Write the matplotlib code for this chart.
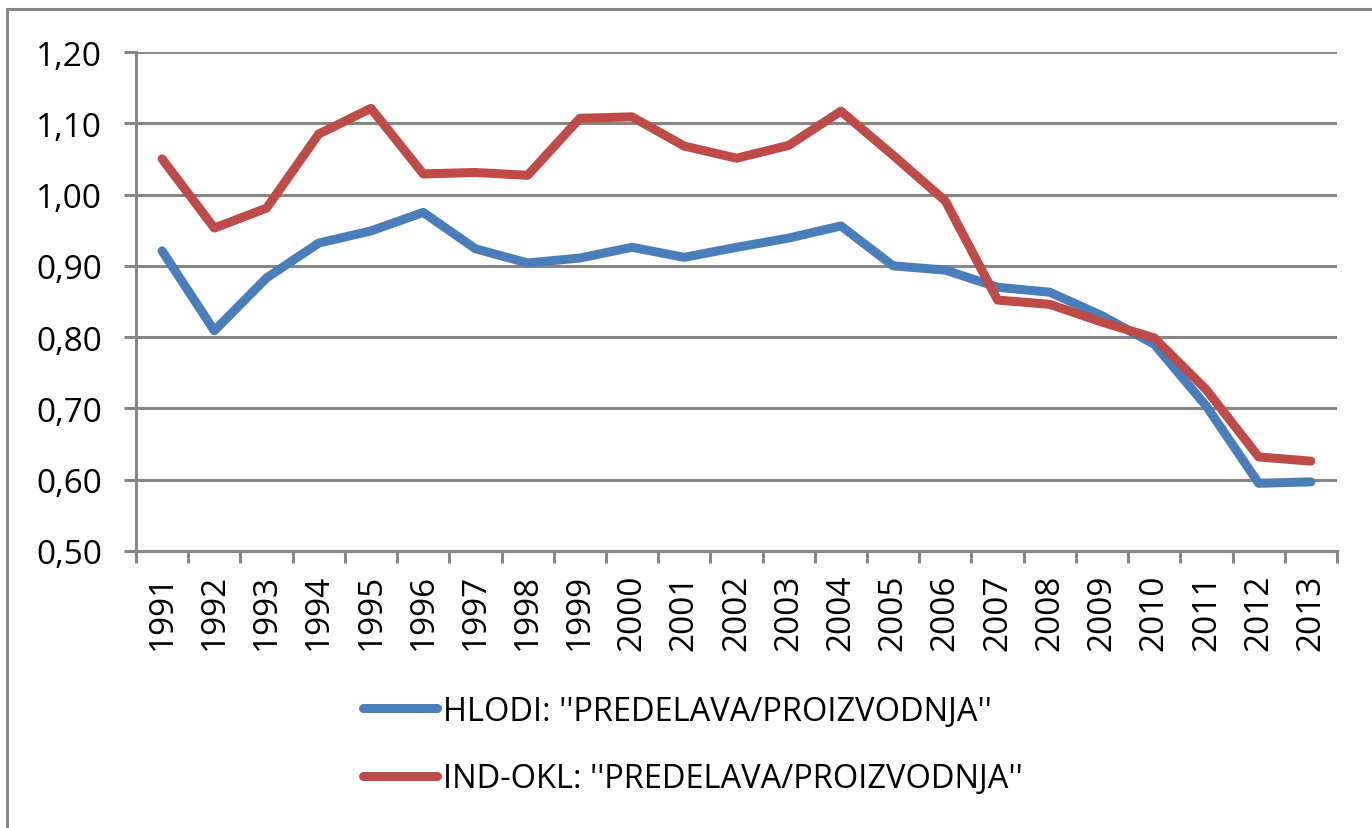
import matplotlib
matplotlib.use('Agg')
import matplotlib.pyplot as plt
from matplotlib.patches import Rectangle
from matplotlib.ticker import FixedLocator, FuncFormatter

plt.rcParams['font.family'] = ['Open Sans', 'DejaVu Sans']

# Podatki
leta = ['1991', '1992', '1993', '1994', '1995', '1996', '1997', '1998', '1999', '2000',
        '2001', '2002', '2003', '2004', '2005', '2006', '2007', '2008', '2009', '2010',
        '2011', '2012', '2013']
hlodi = [0.921, 0.809, 0.883, 0.932, 0.949, 0.975, 0.924, 0.904, 0.911, 0.926,
         0.912, 0.926, 0.939, 0.956, 0.900, 0.894, 0.870, 0.863, 0.830, 0.790,
         0.703, 0.595, 0.597]
ind_okl = [1.050, 0.953, 0.981, 1.085, 1.121, 1.029, 1.031, 1.027, 1.107, 1.109,
           1.068, 1.051, 1.069, 1.117, 1.055, 0.991, 0.852, 0.846, 0.821, 0.799,
           0.726, 0.632, 0.626]
oznake = ["HLODI: ''PREDELAVA/PROIZVODNJA''", "IND-OKL: ''PREDELAVA/PROIZVODNJA''"]

W, H = 1372, 829
fs = 24
fig = plt.figure(figsize=(W / 100, H / 100), dpi=100)
ax = fig.add_axes([136 / W, 1 - 552 / H, (1337 - 136) / W, (552 - 53) / H])

x = list(range(len(leta)))
l1, = ax.plot(x, hlodi, color='#4a7ebb', linewidth=6.5, solid_capstyle='round', solid_joinstyle='round')
l2, = ax.plot(x, ind_okl, color='#be4b48', linewidth=6.5, solid_capstyle='round', solid_joinstyle='round')

ax.set_xlim(-0.5, len(leta) - 0.5)
ax.set_ylim(0.5, 1.2)

siva = '#868686'
ax.set_yticks([0.5 + 0.1 * i for i in range(8)])
ax.yaxis.set_major_formatter(FuncFormatter(lambda v, p: f'{v:.2f}'.replace('.', ',')))
ax.grid(axis='y', color=siva, linewidth=2.2)
ax.set_axisbelow(True)

ax.set_xticks(x)
ax.set_xticklabels(leta, rotation=90)
ax.xaxis.set_minor_locator(FixedLocator([i - 0.5 for i in range(len(leta) + 1)]))
ax.tick_params(axis='x', which='major', length=0, pad=16, labelsize=fs)
ax.tick_params(axis='x', which='minor', length=8.5, width=2.2, color=siva)
ax.tick_params(axis='y', length=8.5, width=2.2, color=siva, labelsize=fs, pad=16)

for s in ['top', 'right']:
    ax.spines[s].set_visible(False)
for s in ['left', 'bottom']:
    ax.spines[s].set_color(siva)
    ax.spines[s].set_linewidth(2.2)

fig.legend([l1, l2], oznake, loc='center', bbox_to_anchor=(693 / W, 1 - 746 / H),
           frameon=False, fontsize=23.5, handlelength=2.25, handletextpad=0.2,
           labelspacing=1.07)

# Okvir grafikona
fig.patches.append(Rectangle((7 / W, -0.1), 1.2, 1 - 10 / H + 0.1, transform=fig.transFigure,
                             fill=False, edgecolor=siva, linewidth=2.2))

fig.savefig('out.png', dpi=100)
plt.close(fig)
